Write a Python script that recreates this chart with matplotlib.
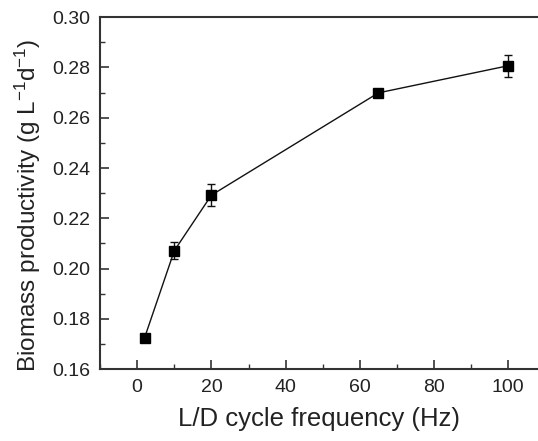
import matplotlib
matplotlib.use("Agg")
import matplotlib.pyplot as plt
from matplotlib.ticker import MultipleLocator

plt.rcParams['font.family'] = ['Liberation Sans', 'DejaVu Sans']
plt.rcParams['mathtext.default'] = 'regular'

frequency = [2, 10, 20, 65, 100]
productivity = [0.1725, 0.2071, 0.2292, 0.2699, 0.2807]
error = [0.0008, 0.0033, 0.0043, 0.0008, 0.0044]

fig = plt.figure(figsize=(5.38, 4.41), dpi=100)
ax = fig.add_axes([0.186, 0.163, 0.814, 0.798])

ax.errorbar(frequency, productivity, yerr=error, color='#111111', lw=1.0,
            marker='s', markersize=7, mfc='black', mec='black',
            ecolor='#111111', elinewidth=1.0, capsize=3, capthick=1.0)

ax.set_xlim(-10, 108)
ax.set_ylim(0.16, 0.30)
ax.xaxis.set_major_locator(MultipleLocator(20))
ax.xaxis.set_minor_locator(MultipleLocator(10))
ax.yaxis.set_major_locator(MultipleLocator(0.02))
ax.yaxis.set_minor_locator(MultipleLocator(0.01))
ax.yaxis.set_major_formatter(matplotlib.ticker.FormatStrFormatter('%.2f'))

ax.tick_params(which='both', direction='in', colors='#333333', labelcolor='#222222',
               top=False, right=False, labelsize=14)
ax.tick_params(which='major', length=6.5, width=1.2, pad=7)
ax.tick_params(which='minor', length=3.5, width=1.0)

for s in ['left', 'bottom', 'top']:
    ax.spines[s].set_linewidth(1.5)
    ax.spines[s].set_color('#333333')
ax.spines['right'].set_visible(False)

ax.set_xlabel('L/D cycle frequency (Hz)', fontsize=18.5, color='#222222', labelpad=8)
ax.set_ylabel('Biomass productivity (g L$^{-1}$d$^{-1}$)', fontsize=17.5, color='#222222')
ax.yaxis.set_label_coords(-0.131, 0.466)

fig.savefig('out.png', dpi=100)
